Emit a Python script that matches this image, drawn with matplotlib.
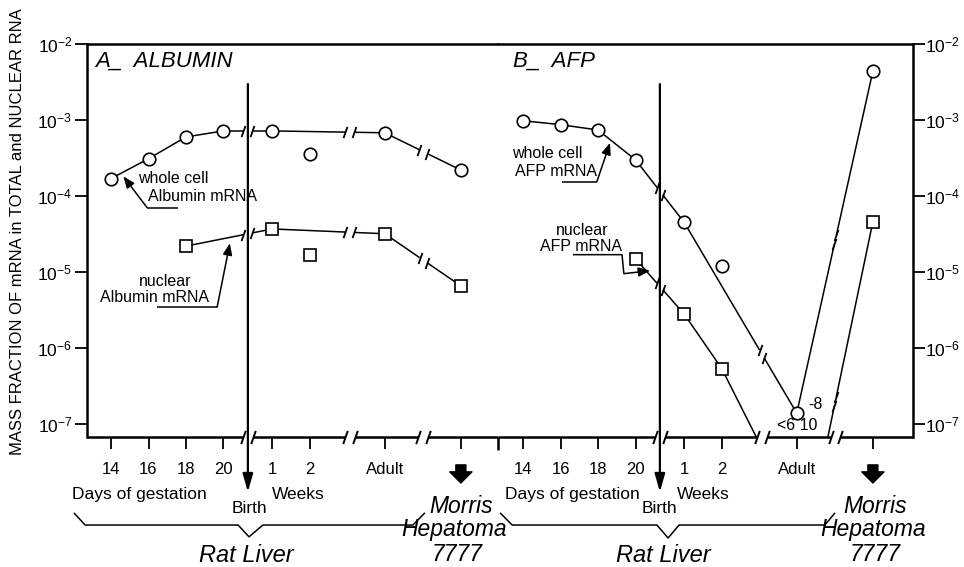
import numpy as np
import matplotlib
matplotlib.use("Agg")
import matplotlib.pyplot as plt
import matplotlib.ticker as mticker
from matplotlib.path import Path

FONT = "Liberation Sans"
plt.rcParams.update({
    "font.family": [FONT, "DejaVu Sans"],
    "mathtext.fontset": "custom",
    "mathtext.rm": FONT,
    "mathtext.it": FONT + ":italic",
    "mathtext.default": "regular",
    "axes.linewidth": 1.8,
    "lines.solid_capstyle": "butt",
})

# x positions: 14, 16, 18, 20 days of gestation, 1 and 2 weeks, adult, hepatoma
POS = [0, 1, 2, 3, 4.3, 5.3, 7.3, 9.33]
TICK_LABELS = ["14", "16", "18", "20", "1", "2", "Adult", ""]
BREAKS = [3.65, 6.37, 8.33]
HEP = 7

nan = np.nan
alb_whole = [1.7e-4, 3.1e-4, 6.0e-4, 7.2e-4, 7.2e-4, 3.6e-4, 6.8e-4, 2.2e-4]
alb_nuc = [nan, nan, 2.2e-5, nan, 3.7e-5, 1.7e-5, 3.2e-5, 6.6e-6]
afp_whole = [9.8e-4, 8.7e-4, 7.4e-4, 3.0e-4, 4.5e-5, 1.2e-5, 1.4e-7, 4.4e-3]
afp_nuc = [nan, nan, nan, 1.5e-5, 2.8e-6, 5.4e-7, nan, 4.6e-5]

# which points are joined by a line (2-week values stand alone)
alb_whole_path = [0, 1, 2, 3, 4, 6, 7]
alb_nuc_path = [2, 4, 6, 7]
afp_whole_path = [0, 1, 2, 3, 4, 6, 7]
afp_nuc_path = [3, 4, 5]

YMIN, YMAX = 6.8e-8, 1e-2
LW = 1.1
SLASH = Path([(-0.35, -1.0), (0.35, 1.0)], [Path.MOVETO, Path.LINETO])
SMALL = 11.5
BIG = 16.5
ARROW = dict(arrowstyle="-|>,head_length=0.5,head_width=0.2", color="k",
             lw=LW, mutation_scale=14, shrinkA=0, shrinkB=0)


def segment(ax, x0, y0, x1, y1, gap=4.5):
    """line between two points, interrupted where an axis break lies"""
    cuts = [b for b in BREAKS if min(x0, x1) < b < max(x0, x1)]
    if not cuts:
        ax.plot([x0, x1], [y0, y1], color="k", lw=LW, zorder=2)
        return
    T = ax.transData
    p0, p1 = T.transform((x0, y0)), T.transform((x1, y1))
    bx = T.transform((cuts[0], y0))[0]
    pb = p0 + (bx - p0[0]) / (p1[0] - p0[0]) * (p1 - p0)
    u = (p1 - p0) / np.hypot(*(p1 - p0))
    (xa, ya), (xc, yc) = T.inverted().transform([pb - gap * u, pb + gap * u])
    ax.plot([x0, xa], [y0, ya], color="k", lw=LW, zorder=2)
    ax.plot([xc, x1], [yc, y1], color="k", lw=LW, zorder=2)
    ax.plot([xa, xc], [ya, yc], ls="none", marker=SLASH, ms=8,
            mec="k", mew=1.3, zorder=2)


def series(ax, vals, path, marker, ms):
    for i, j in zip(path[:-1], path[1:]):
        segment(ax, POS[i], vals[i], POS[j], vals[j])
    ax.plot(POS, vals, ls="none", marker=marker, ms=ms, mfc="white",
            mec="k", mew=1.2, zorder=3)


def setup(ax, xlim, right=False):
    ax.set_yscale("log")
    ax.set_ylim(YMIN, YMAX)
    ax.set_xlim(*xlim)
    ax.yaxis.set_major_locator(mticker.LogLocator(base=10, numticks=10))
    ax.yaxis.set_minor_locator(mticker.NullLocator())
    ax.yaxis.set_major_formatter(mticker.FuncFormatter(
        lambda v, p: r"$10^{%d}$" % round(np.log10(v))))
    ax.set_xticks(POS)
    ax.set_xticklabels(TICK_LABELS)
    ax.tick_params(axis="x", direction="out", length=8.6, width=1.3,
                   pad=9.5, labelsize=SMALL + 0.5)
    ax.tick_params(axis="y", direction="out", length=8.6, width=1.3,
                   labelsize=12.5, pad=0 if right else 2)
    if right:
        ax.yaxis.tick_right()
        ax.spines["left"].set_visible(False)
    else:
        ax.spines["right"].set_visible(False)
    # bottom axis line with broken segments
    ax.spines["bottom"].set_visible(False)
    tr = ax.get_xaxis_transform()
    edges = [xlim[0]] + [v for b in BREAKS for v in (b - 0.13, b + 0.13)] + [xlim[1]]
    for a, b in zip(edges[::2], edges[1::2]):
        ax.plot([a, b], [0, 0], color="k", lw=1.8, transform=tr, clip_on=False)
    for b in BREAKS:
        ax.plot([b - 0.13, b + 0.13], [0, 0], ls="none", marker=SLASH, ms=9.5,
                mec="k", mew=1.4, transform=tr, clip_on=False)
    # birth arrow
    ax.annotate("", xy=(BREAKS[0], -0.14), xytext=(BREAKS[0], 0.898),
                xycoords=tr, textcoords=tr, annotation_clip=False,
                arrowprops=dict(arrowstyle="-|>,head_length=0.6,head_width=0.17",
                                lw=1.6, color="k", mutation_scale=18,
                                shrinkA=0, shrinkB=0))
    # hepatoma arrow
    ax.annotate("", xy=(POS[HEP], -0.117), xytext=(POS[HEP], -0.071),
                xycoords=tr, textcoords=tr, annotation_clip=False,
                arrowprops=dict(arrowstyle="simple,head_length=0.4,head_width=0.8,tail_width=0.36",
                                color="k", mutation_scale=20,
                                shrinkA=0, shrinkB=0))
    return tr


def below(ax, tr, xs):
    """labels and braces under the time axis"""
    days_x, birth_x, weeks_x, hep_x, rat_x, brace = xs
    ax.text(days_x, -0.147, "Days of gestation", transform=tr, ha="left",
            va="center", fontsize=12.5)
    ax.text(birth_x, -0.183, "Birth", transform=tr, ha="center",
            va="center", fontsize=12.5)
    ax.text(weeks_x, -0.147, "Weeks", transform=tr, ha="left",
            va="center", fontsize=12.5)
    ax.text(hep_x[0], -0.178, "Morris", transform=tr, ha="center",
            va="center", fontsize=BIG, style="italic")
    ax.text(hep_x[1], -0.236, "Hepatoma", transform=tr, ha="center",
            va="center", fontsize=BIG, style="italic")
    ax.text(hep_x[2], -0.298, "7777", transform=tr, ha="center",
            va="center", fontsize=BIG, style="italic")
    ax.text(rat_x, -0.302, "Rat Liver", transform=tr, ha="center",
            va="center", fontsize=17, style="italic")
    bx, by = brace
    ax.plot(bx, by, color="k", lw=1.1, transform=tr, clip_on=False)


fig = plt.figure(figsize=(9.64, 5.67), dpi=100)
ax1 = fig.add_axes([87 / 964, 1 - 437 / 567, 411 / 964, 393 / 567])
ax2 = fig.add_axes([498 / 964, 1 - 437 / 567, 415 / 964, 393 / 567])

# ---- A. albumin ----
tr1 = setup(ax1, (-0.64, 10.32))
series(ax1, alb_whole, alb_whole_path, "o", 9)
series(ax1, alb_nuc, alb_nuc_path, "s", 8.5)
ax1.text(0.02, 0.955, "A_  ALBUMIN", transform=ax1.transAxes, fontsize=16,
         style="italic", va="center", ha="left")
ax1.text(0.72, 10 ** -3.77, "whole cell", fontsize=SMALL, va="center")
ax1.text(0.99, 10 ** -4.01, "Albumin mRNA", fontsize=SMALL, va="center")
ax1.plot([1.79, 0.96], [10 ** -4.15, 10 ** -4.15], color="k", lw=LW)
ax1.annotate("", xy=(0.33, 10 ** -3.74), xytext=(0.96, 10 ** -4.15),
             arrowprops=ARROW)
ax1.text(1.44, 10 ** -5.12, "nuclear", fontsize=SMALL, va="center", ha="center")
ax1.text(-0.29, 10 ** -5.33, "Albumin mRNA", fontsize=SMALL, va="center")
ax1.plot([1.23, 2.83], [10 ** -5.46, 10 ** -5.46], color="k", lw=LW)
ax1.annotate("", xy=(3.17, 10 ** -4.62), xytext=(2.83, 10 ** -5.46),
             arrowprops=ARROW)
below(ax1, tr1, (-1.04, 3.68, 4.29, (9.33, 9.15, 9.23), 3.6,
                 ([-0.99, -0.69, 3.39, 3.68, 4.05, 8.05, 8.37],
                  [-0.193, -0.224, -0.224, -0.254, -0.224, -0.224, -0.193])))

# ---- B. AFP ----
tr2 = setup(ax2, (-0.667, 10.4), right=True)
series(ax2, afp_whole, afp_whole_path, "o", 9)
series(ax2, afp_nuc, afp_nuc_path, "s", 8.5)
# nuclear AFP drops below detection after 2 weeks, and rises again in hepatoma
ax2.plot([POS[5], 6.22], [afp_nuc[5], YMIN], color="k", lw=LW, zorder=2)
segment(ax2, 8.13, YMIN, POS[HEP], afp_nuc[HEP])
ax2.text(0.035, 0.955, "B_  AFP", transform=ax2.transAxes, fontsize=16,
         style="italic", va="center", ha="left")
ax2.text(-0.29, 10 ** -3.44, "whole cell", fontsize=SMALL, va="center")
ax2.text(-0.21, 10 ** -3.68, "AFP mRNA", fontsize=SMALL, va="center")
ax2.plot([1.04, 1.97], [10 ** -3.81, 10 ** -3.81], color="k", lw=LW)
ax2.annotate("", xy=(2.32, 10 ** -3.30), xytext=(1.97, 10 ** -3.81),
             arrowprops=ARROW)
ax2.text(1.57, 10 ** -4.45, "nuclear", fontsize=SMALL, va="center", ha="center")
ax2.text(1.55, 10 ** -4.66, "AFP mRNA", fontsize=SMALL, va="center", ha="center")
ax2.plot([1.33, 2.64, 2.69], [10 ** -4.77, 10 ** -4.77, 10 ** -5.02],
         color="k", lw=LW)
ax2.annotate("", xy=(3.39, 10 ** -4.98), xytext=(2.69, 10 ** -5.02),
             arrowprops=ARROW)
ax2.text(7.79, 10 ** -6.74, "-8", fontsize=SMALL, va="center", ha="center")
ax2.text(7.31, 10 ** -7.01, "<6 10", fontsize=SMALL, va="center", ha="center")
below(ax2, tr2, (-0.48, 3.65, 4.1, (9.39, 9.33, 9.39), 3.73,
                 ([-0.61, -0.29, 3.57, 3.87, 4.16, 8.05, 8.32],
                  [-0.193, -0.224, -0.224, -0.257, -0.224, -0.224, -0.193])))

# panel divider runs a little below the axis
ax2.plot([-0.667, -0.667], [0, -0.033], color="k", lw=1.8,
         transform=tr2, clip_on=False)

fig.text(18 / 964, 1 - 232 / 567,
         "MASS FRACTION OF mRNA in TOTAL and NUCLEAR RNA",
         rotation=90, ha="center", va="center", fontsize=12)

fig.savefig("out.png", dpi=100)
